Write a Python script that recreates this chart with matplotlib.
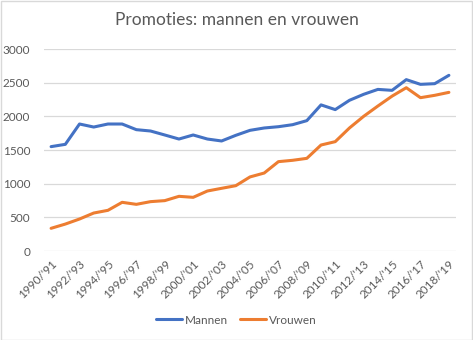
import matplotlib
matplotlib.use("Agg")
import matplotlib.pyplot as plt
from matplotlib.patches import Rectangle

years = [f"{y}/'{(y + 1) % 100:02d}" for y in range(1990, 2019)]
mannen = [1550, 1584, 1886, 1841, 1886, 1886, 1802, 1782, 1723, 1663,
          1723, 1663, 1634, 1718, 1792, 1827, 1846, 1876, 1936, 2170,
          2100, 2238, 2327, 2400, 2386, 2545, 2475, 2485, 2609]
vrouwen = [337, 400, 475, 564, 604, 723, 693, 733, 748, 812,
           797, 891, 931, 970, 1100, 1158, 1327, 1347, 1376, 1574,
           1624, 1827, 2000, 2153, 2300, 2425, 2277, 2312, 2356]
yticks = [0, 500, 1000, 1500, 2000, 2500, 3000]

plt.rcParams['font.family'] = ['Lato', 'DejaVu Sans']
W, H = 473, 340
fig = plt.figure(figsize=(W / 100, H / 100), dpi=100)
ax = fig.add_axes([44 / W, 1 - 251 / H, (456 - 44) / W, (251 - 49) / H])

x = list(range(len(years)))
ax.plot(x, mannen, color='#4472C4', lw=2.2, label='Mannen', solid_capstyle='round')
ax.plot(x, vrouwen, color='#ED7D31', lw=2.2, label='Vrouwen', solid_capstyle='round')

ax.set_xlim(-0.5, len(years) - 0.5)
ax.set_ylim(0, 3000)
ax.set_yticks(yticks)
ax.set_yticklabels([str(v) for v in yticks])
ax.yaxis.grid(True, color='#D9D9D9', lw=0.9)
ax.set_axisbelow(True)
for s in ax.spines.values():
    s.set_visible(False)
ax.tick_params(axis='y', length=0, pad=10, labelsize=8.5, labelcolor='#595959')
ax.set_xticks(x[::2])
ax.set_xticklabels(years[::2], rotation=45, ha='right', rotation_mode='anchor')
ax.tick_params(axis='x', length=0, pad=5, labelsize=8.5, labelcolor='#595959')

fig.text(0.5, 1 - 20 / H, 'Promoties: mannen en vrouwen', ha='center', va='center',
         fontsize=12.5, color='#595959')

leg = fig.legend(loc='center', bbox_to_anchor=(0.5, 1 - 320 / H), ncol=2, frameon=False,
                 fontsize=8.5, handlelength=2.2, columnspacing=1.0, handletextpad=0.25)
for t in leg.get_texts():
    t.set_color('#595959')

fig.patches.append(Rectangle((0.5 / W, 0.5 / H), 1 - 1.5 / W, 1 - 1.5 / H, transform=fig.transFigure,
                             fill=False, edgecolor='#D9D9D9', lw=1))
fig.savefig('out.png', dpi=100)
